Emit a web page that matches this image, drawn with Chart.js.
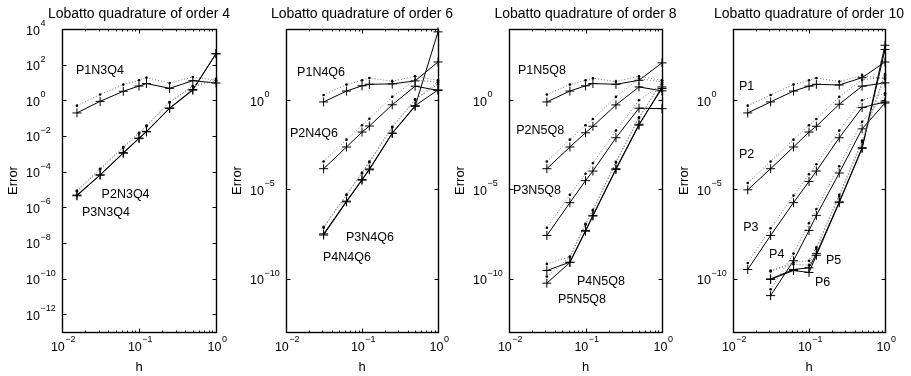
<!DOCTYPE html>
<html lang="en">
<head>
<meta charset="UTF-8">
<title>Lobatto quadrature errors</title>
<script src="https://cdn.jsdelivr.net/npm/chart.js"></script>
<style>
  body { margin: 0; background: #fff; }
  #wrap { position: relative; width: 911px; height: 376px; }
  #wrap canvas { position: absolute; left: 0; top: 0; }
</style>
</head>
<body>
<div id="wrap">
  <canvas id="q4" width="911" height="376"></canvas>
  <canvas id="q6" width="911" height="376"></canvas>
  <canvas id="q8" width="911" height="376"></canvas>
  <canvas id="q10" width="911" height="376"></canvas>
</div>
<script>
// mesh sizes h
const hFrom64 = [1/64, 1/32, 1/16, 1/10, 1/8, 1/4, 1/2, 1];
const hFrom32 = [1/32, 1/16, 1/10, 1/8, 1/4, 1/2, 1];

// axis ticks
const xMajorTicks = [0.01, 0.1, 1];
const xMinorTicks = [0.02, 0.03, 0.04, 0.05, 0.06, 0.07, 0.08, 0.09, 0.2, 0.3, 0.4, 0.5, 0.6, 0.7, 0.8, 0.9];
const xTickExp = [-2, -1, 0];
const yTickExpDense = [4, 2, 0, -2, -4, -6, -8, -10, -12];
const yTickExpSparse = [0, -5, -10];

// order 4 (solid = error, est = dotted estimate)
const q4P1 = [0.195, 0.87, 3.2, 6.3, 8.7, 4.7, 12.6, 9.3];
const q4P1est = [0.5, 2.1, 7.6, 13.2, 18.6, 9.3, 20.4, 13.2];
const q4P2 = [4.8e-6, 6.6e-5, 1.15e-3, 7.6e-3, 1.8e-2, 0.37, 4.0, 417];
const q4P2est = [8.7e-6, 1.45e-4, 2.4e-3, 1.5e-2, 3.8e-2, 0.81, 6.3, 16];
const q4P3 = [4.4e-6, 6.3e-5, 1.07e-3, 7.1e-3, 1.7e-2, 0.35, 3.7, 400];
const q4P3est = [7.9e-6, 1.3e-4, 2.2e-3, 1.4e-2, 3.5e-2, 0.76, 6.0, 12];

// order 6
const q6P1 = [0.81, 3.3, 6.5, 7.9, 8.3, 12.3, 141];
const q6P1est = [2.0, 7.6, 13.2, 17.8, 11.7, 22.4, 13.2];
const q6P2 = [1.45e-4, 2.4e-3, 1.66e-2, 3.6e-2, 0.56, 6.2, 3.6];
const q6P2est = [3.7e-4, 6.2e-3, 4.0e-2, 9.3e-2, 1.58, 14, 10];
const q6P3 = [3.2e-8, 2.2e-6, 3.6e-5, 1.4e-4, 1.45e-2, 0.5, 3.8];
const q6P3est = [7.9e-8, 5.2e-6, 8.7e-5, 3.6e-4, 3.3e-2, 1.12, 7.9];
const q6P4 = [2.75e-8, 2.0e-6, 3.3e-5, 1.26e-4, 1.38e-2, 0.46, 6900];
const q6P4est = [7.1e-8, 4.8e-6, 7.9e-5, 3.3e-4, 3.0e-2, 1.05, 11];

// order 8
const q8P1 = [0.81, 3.3, 6.5, 8.7, 7.9, 13.2, 126];
const q8P1est = [2.1, 7.6, 13.2, 17.4, 11.2, 22.4, 13.2];
const q8P2 = [1.45e-4, 2.4e-3, 1.5e-2, 3.5e-2, 0.55, 5.6, 3.4];
const q8P2est = [3.7e-4, 6.2e-3, 4.0e-2, 8.9e-2, 1.55, 16.6, 10.7];
const q8P3 = [2.6e-8, 1.8e-6, 3.1e-5, 1.07e-4, 7.9e-3, 0.36, 0.34];
const q8P3est = [7.1e-8, 5.0e-6, 7.6e-5, 3.0e-4, 2.0e-2, 1.0, 7.9];
const q8P4 = [2.8e-10, 8.3e-10, 5.0e-8, 3.5e-7, 1.45e-4, 4.5e-2, 4.6];
const q8P4est = [6.6e-10, 1.7e-9, 1.17e-7, 7.2e-7, 3.5e-4, 0.11, 10];
const q8P5 = [5.5e-11, 7.9e-10, 4.5e-8, 3.2e-7, 1.3e-4, 4.0e-2, 5.6];
const q8P5est = [1.3e-10, 1.6e-9, 1.05e-7, 6.6e-7, 3.2e-4, 0.1, 12.6];

// order 10
const q10P1 = [0.195, 0.81, 3.3, 6.2, 7.9, 7.2, 18.6, 141];
const q10P1est = [0.5, 2.0, 7.6, 13.2, 17.8, 11.2, 25, 15.8];
const q10P2 = [9.5e-6, 1.45e-4, 2.4e-3, 1.66e-2, 3.5e-2, 0.6, 6.2, 9.5];
const q10P2est = [2.3e-5, 3.7e-4, 6.2e-3, 4.0e-2, 8.9e-2, 1.58, 14, 20];
const q10P3 = [3.2e-10, 2.6e-8, 1.8e-6, 2.8e-5, 1.07e-4, 7.9e-3, 0.39, 0.81];
const q10P3est = [7.4e-10, 6.6e-8, 4.5e-6, 7.1e-5, 2.6e-4, 2.0e-2, 1.0, 2.5];
const q10P4 = [1.1e-11, 1.0e-9, 5.0e-8, 3.5e-7, 8.3e-5, 2.5e-2, 0.7];
const q10P4est = [2.5e-11, 2.5e-9, 1.26e-7, 7.9e-7, 2.0e-4, 6.3e-2, 2.0];
const q10P5 = [9.5e-11, 3.2e-10, 4.0e-10, 2.5e-9, 2.0e-6, 2.2e-3, 1230];
const q10P5est = [2.8e-10, 7.9e-10, 1.0e-9, 5.6e-9, 5.0e-6, 5.6e-3, 30];
const q10P6 = [8.9e-11, 2.8e-10, 2.2e-10, 2.0e-9, 1.8e-6, 2.0e-3, 708];
const q10P6est = [2.5e-10, 6.3e-10, 5.6e-10, 4.5e-9, 4.0e-6, 4.5e-3, 25];

const FONT = '"Liberation Sans", Arial, Helvetica, sans-serif';

function pts(h, v) {
  return v.map((e, i) => ({ x: h[i], y: e }));
}

// dotted estimates first so the solid error lines sit on top
function buildDatasets(list) {
  const dotted = list.map(s => ({
    data: pts(s[0], s[2]),
    borderColor: '#777',
    borderWidth: 1,
    borderDash: [1, 2],
    pointStyle: 'circle',
    pointRadius: 1.3,
    pointBackgroundColor: '#000',
    pointBorderWidth: 0,
    tension: 0,
    clip: false
  }));
  const solid = list.map(s => ({
    data: pts(s[0], s[1]),
    borderColor: '#000',
    borderWidth: 1,
    pointStyle: 'cross',
    pointRadius: 4.5,
    pointBorderColor: '#000',
    pointBorderWidth: 1,
    tension: 0,
    clip: false
  }));
  return dotted.concat(solid);
}

// "10" with a raised exponent; anchor is the right edge of "10" (y axis) or the label centre (x axis)
function drawPow(ctx, e, x, yMid, mode) {
  const base = '10';
  const sup = String(e).replace('-', '\u2212');
  ctx.font = '12.5px ' + FONT;
  const wb = ctx.measureText(base).width;
  ctx.font = '9px ' + FONT;
  const ws = ctx.measureText(sup).width;
  const x0 = mode === 'base' ? x - wb : x - (wb + ws) / 2;
  ctx.textAlign = 'left';
  ctx.textBaseline = 'alphabetic';
  ctx.font = '12.5px ' + FONT;
  ctx.fillText(base, x0, yMid + 4.5);
  ctx.font = '9px ' + FONT;
  ctx.fillText(sup, x0 + wb + 0.5, yMid - 4);
}

// MATLAB-like boxed axes with inward ticks
const matAxes = {
  id: 'matAxes',
  afterDraw(chart, args, o) {
    const ctx = chart.ctx, a = chart.chartArea;
    const xs = chart.scales.x, ys = chart.scales.y;
    const L = Math.round(a.left) + 0.5, R = Math.round(a.right) + 0.5;
    const T = Math.round(a.top) + 0.5, B = Math.round(a.bottom) + 0.5;
    ctx.save();
    ctx.strokeStyle = '#000';
    ctx.fillStyle = '#000';
    ctx.lineWidth = 1.4;
    ctx.strokeRect(L, T, R - L, B - T);

    ctx.lineWidth = 1;
    ctx.beginPath();
    xMinorTicks.forEach(v => {
      const p = Math.round(xs.getPixelForValue(v)) + 0.5;
      ctx.moveTo(p, B); ctx.lineTo(p, B - 2);
      ctx.moveTo(p, T); ctx.lineTo(p, T + 2);
    });
    xMajorTicks.forEach(v => {
      const p = Math.round(xs.getPixelForValue(v)) + 0.5;
      ctx.moveTo(p, B); ctx.lineTo(p, B - 4);
      ctx.moveTo(p, T); ctx.lineTo(p, T + 4);
    });
    o.yExp.forEach(e => {
      const p = Math.round(ys.getPixelForValue(Math.pow(10, e))) + 0.5;
      ctx.moveTo(L, p); ctx.lineTo(L + 4, p);
      ctx.moveTo(R, p); ctx.lineTo(R - 4, p);
    });
    ctx.stroke();

    xMajorTicks.forEach((v, i) => drawPow(ctx, xTickExp[i], xs.getPixelForValue(v) + 1, 346, 'center'));
    o.yExp.forEach(e => drawPow(ctx, e, a.left - 22, ys.getPixelForValue(Math.pow(10, e)) + 1, 'base'));

    const cx = (a.left + a.right) / 2;
    ctx.textAlign = 'center';
    ctx.textBaseline = 'alphabetic';
    ctx.font = '14px ' + FONT;
    ctx.fillText(o.title, cx, 18);
    ctx.font = '13px ' + FONT;
    ctx.fillText('h', cx, 371);

    ctx.save();
    ctx.translate(a.left - 45, (a.top + a.bottom) / 2);
    ctx.rotate(-Math.PI / 2);
    ctx.fillText('Error', 0, 0);
    ctx.restore();

    ctx.textAlign = 'left';
    ctx.textBaseline = 'middle';
    ctx.font = '12.5px ' + FONT;
    o.notes.forEach(n => {
      ctx.fillText(n[0], xs.getPixelForValue(n[1]), ys.getPixelForValue(n[2]));
    });
    ctx.restore();
  }
};

const panels = [
  {
    id: 'q4', title: 'Lobatto quadrature of order 4', box: [62, 29, 216, 332], yExp: yTickExpDense,
    series: [[hFrom64, q4P1, q4P1est], [hFrom64, q4P2, q4P2est], [hFrom64, q4P3, q4P3est]],
    notes: [['P1N3Q4', 0.0152, 44], ['P2N3Q4', 0.0327, 4.9e-6], ['P3N3Q4', 0.0182, 4.8e-7]]
  },
  {
    id: 'q6', title: 'Lobatto quadrature of order 6', box: [286, 29, 438, 332], yExp: yTickExpSparse,
    series: [[hFrom32, q6P1, q6P1est], [hFrom32, q6P2, q6P2est], [hFrom32, q6P3, q6P3est], [hFrom32, q6P4, q6P4est]],
    notes: [['P1N4Q6', 0.014, 35], ['P2N4Q6', 0.0113, 1.3e-2], ['P3N4Q6', 0.0615, 1.9e-8], ['P4N4Q6', 0.0307, 1.5e-9]]
  },
  {
    id: 'q8', title: 'Lobatto quadrature of order 8', box: [509, 29, 662, 332], yExp: yTickExpSparse,
    series: [[hFrom32, q8P1, q8P1est], [hFrom32, q8P2, q8P2est], [hFrom32, q8P3, q8P3est], [hFrom32, q8P4, q8P4est], [hFrom32, q8P5, q8P5est]],
    notes: [['P1N5Q8', 0.0131, 44], ['P2N5Q8', 0.0124, 2.1e-2], ['P3N5Q8', 0.0113, 8.5e-6], ['P4N5Q8', 0.0774, 6.6e-11], ['P5N5Q8', 0.0438, 6.8e-12]]
  },
  {
    id: 'q10', title: 'Lobatto quadrature of order 10', box: [733, 29, 885, 332], yExp: yTickExpSparse,
    series: [[hFrom64, q10P1, q10P1est], [hFrom64, q10P2, q10P2est], [hFrom64, q10P3, q10P3est],
             [hFrom32, q10P4, q10P4est], [hFrom32, q10P5, q10P5est], [hFrom32, q10P6, q10P6est]],
    notes: [['P1', 0.012, 6.3], ['P2', 0.012, 8.5e-4], ['P3', 0.0136, 6.8e-8], ['P4', 0.0298, 2.1e-9], ['P5', 0.1675, 1.0e-9], ['P6', 0.12, 5.8e-11]]
  }
];

panels.forEach(p => {
  const [l, t, r, b] = p.box;
  new Chart(document.getElementById(p.id), {
    type: 'line',
    data: { datasets: buildDatasets(p.series) },
    plugins: [matAxes],
    options: {
      responsive: false,
      animation: false,
      events: [],
      layout: { padding: { left: l, top: t, right: 911 - r, bottom: 376 - b } },
      scales: {
        x: { type: 'logarithmic', min: 0.01, max: 1, display: false },
        y: { type: 'logarithmic', min: 1e-13, max: 1e4, display: false }
      },
      plugins: {
        legend: { display: false },
        tooltip: { enabled: false },
        matAxes: { title: p.title, yExp: p.yExp, notes: p.notes }
      }
    }
  });
});
</script>
</body>
</html>
